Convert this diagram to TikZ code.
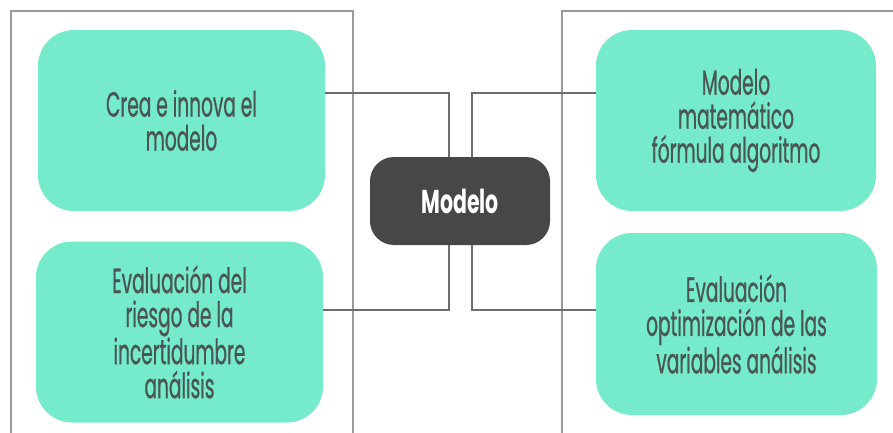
\documentclass[tikz,border=0pt]{standalone}
\usepackage{fontspec}
\setmainfont{Poppins}[FakeStretch=0.53,FakeBold=0.6]
\newfontfamily\hubfont{Poppins}[FakeStretch=0.62]
\definecolor{mint}{HTML}{75EBCB}
\definecolor{boxtext}{HTML}{4A5656}
\definecolor{darkbox}{HTML}{474747}
\definecolor{linec}{HTML}{6E6E6E}
\definecolor{framec}{HTML}{9A9A9A}
\begin{document}
\begin{tikzpicture}[x=1pt,y=-1pt,
  leaf/.style={rectangle, rounded corners=36pt, fill=mint, text=boxtext,
    align=center, inner sep=0pt, font=\fontsize{35}{34}\selectfont},
  hub/.style={rectangle, rounded corners=24pt, fill=darkbox, text=white,
    align=center, inner sep=0pt, minimum width=180pt, minimum height=88pt,
    font=\hubfont\fontsize{33}{30}\selectfont\bfseries},
  conn/.style={draw=linec, line width=2pt},
  frame/.style={draw=framec, line width=1.6pt}]
\useasboundingbox (0,0) rectangle (893,433);
% frames
\draw[frame] (11,433) -- (11,11) -- (353,11) -- (353,433);
\draw[frame] (562,433) -- (562,11) -- (893,11);
% nodes
\node[leaf, minimum width=287pt, minimum height=181pt] (b1) at (181.5,120.5) {Crea e innova el\\modelo};
\node[leaf, minimum width=287pt, minimum height=181pt] (b2) at (179.5,332) {Evaluación del\\riesgo de la\\incertidumbre\\análisis};
\node[leaf, minimum width=280pt, minimum height=181pt] (b3) at (736,120.5) {Modelo\\matemático\\fórmula algoritmo};
\node[leaf, minimum width=281pt, minimum height=182pt] (b4) at (736.5,324) {Evaluación\\optimización de las\\variables análisis};
\node[hub] (c) at (460,201) {Modelo};
% connectors
\draw[conn] ([yshift=27.5pt]b1.east) -| ([xshift=-11pt]c.north);
\draw[conn] ([xshift=12pt]c.north) |- ([yshift=27.5pt]b3.west);
\draw[conn] ([xshift=-11pt]c.south) |- ([yshift=22pt]b2.east);
\draw[conn] ([xshift=12pt]c.south) |- ([yshift=14pt]b4.west);
\end{tikzpicture}
\end{document}
